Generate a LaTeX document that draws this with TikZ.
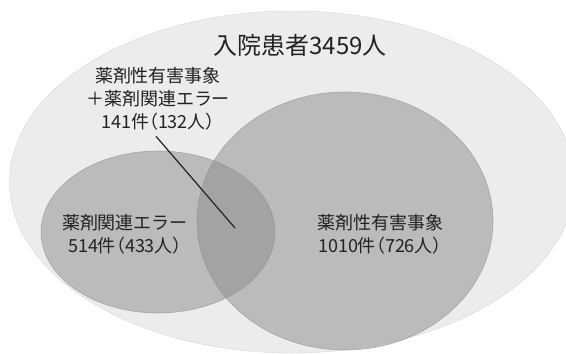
\documentclass[tikz,border=0pt]{standalone}
\usepackage{fontspec}
\setmainfont{Noto Sans CJK JP}
\newfontfamily\paltfont[RawFeature=+palt]{Noto Sans CJK JP}
\definecolor{outerfill}{HTML}{ECECEC}
\definecolor{setfill}{HTML}{8C8C8C}
\definecolor{setedge}{HTML}{8A8A8A}
\definecolor{txt}{HTML}{222222}
\tikzset{
  px/.style={x=1pt,y=-1pt},
  setshape/.style={ellipse, fill=setfill, fill opacity=0.5, draw=setedge, draw opacity=0.6, line width=0.6pt, inner sep=0pt},
  lbl/.style={text=txt, font=\fontsize{18}{23}\selectfont, align=center, inner sep=0pt},
}
\usetikzlibrary{shapes.geometric}
\begin{document}
\begin{tikzpicture}[px]
\useasboundingbox (0,0) rectangle (566,354);
\fill[white] (0,0) rectangle (566,354);
\node[ellipse, fill=outerfill, draw=gray!30, minimum width=565pt, minimum height=342pt, inner sep=0pt] (all) at (292,182) {};
\node[setshape, minimum width=234pt, minimum height=162pt] (err) at (158,232) {};
\node[setshape, minimum width=296pt, minimum height=258pt] (ade) at (345,221) {};
\node[lbl, font=\fontsize{24}{28}\selectfont] (title) at (300,45) {入院患者3459人};
\node[lbl, anchor=north] (both) at (158,67) {薬剤性有害事象\\＋薬剤関連エラー\\{\paltfont 141件（132人）}};
\node[lbl] (errlbl) at (125,234) {薬剤関連エラー\\{\paltfont 514件（433人）}};
\node[lbl] (adelbl) at (380,234) {薬剤性有害事象\\{\paltfont 1010件（726人）}};
\coordinate (pt) at (235,228);
\draw[line width=1.2pt, color=txt] (both.south) ++(-2,6) -- (pt);
\end{tikzpicture}
\end{document}
